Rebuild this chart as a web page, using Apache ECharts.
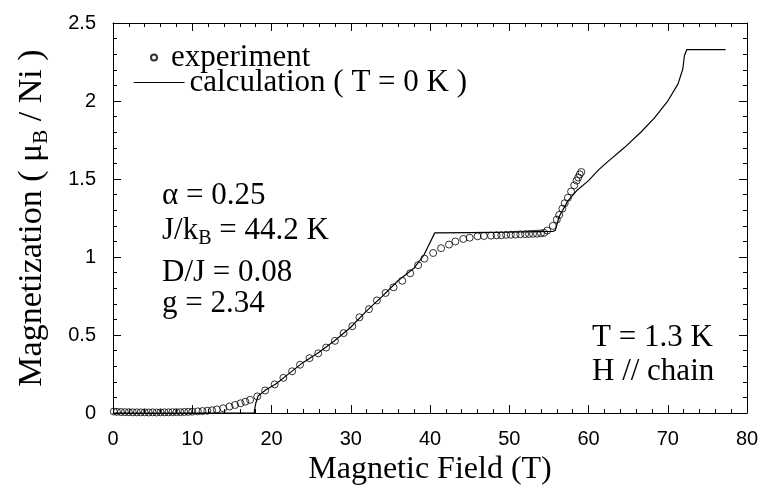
<!DOCTYPE html>
<html><head><meta charset="utf-8">
<script src="https://cdn.jsdelivr.net/npm/echarts/dist/echarts.min.js"></script>
<style>html,body{margin:0;padding:0;background:#fff}#c{width:762px;height:491px}</style>
</head><body><div id="c"></div>
<script>
// Experimental points (field in T, magnetization in muB/Ni)
const fieldExp = [0.1,0.5,1.0,1.5,2.0,2.5,3.0,3.5,4.0,4.5,5.0,5.5,6.0,6.5,7.0,7.5,8.0,8.5,9.0,9.5,10.0,
  10.7,11.3,11.9,12.5,13.1,13.9,14.7,15.4,16.1,16.7,17.3,18.2,19.2,20.4,21.5,22.6,23.6,24.8,25.9,26.9,28.0,
  29.1,30.2,31.1,32.3,33.3,34.4,35.4,36.5,37.5,38.5,39.3,40.4,41.4,42.4,43.2,44.2,45.0,46.0,46.8,47.7,48.4,
  49.0,49.6,50.2,50.8,51.4,52.0,52.5,53.0,53.5,54.0,54.4,54.8,55.5,56.0,56.3,56.7,57.0,57.4,57.8,58.2,58.5,
  58.7,58.9,59.1];
const magExp = [0.010,0.008,0.007,0.006,0.006,0.005,0.005,0.005,0.005,0.004,0.005,0.004,0.005,0.005,0.005,0.006,0.006,0.006,0.007,0.008,0.009,
  0.011,0.013,0.015,0.018,0.023,0.031,0.042,0.052,0.063,0.073,0.085,0.107,0.145,0.184,0.226,0.268,0.310,0.352,0.383,0.420,0.463,
  0.513,0.557,0.614,0.666,0.722,0.770,0.806,0.848,0.896,0.948,0.990,1.026,1.057,1.080,1.100,1.116,1.124,1.133,1.135,1.137,1.139,
  1.140,1.142,1.143,1.144,1.146,1.147,1.148,1.149,1.150,1.152,1.155,1.170,1.200,1.240,1.270,1.310,1.345,1.380,1.420,1.460,1.490,
  1.510,1.530,1.545];
// Calculation at T = 0 K
const fieldCalc = [0,17.8,18.0,18.3,19.3,20.5,22,24,26,28,30,32,34,36,38,39.2,40.6,45,50,55.5,55.8,56.3,57.4,58.6,60,61.3,62.4,64.5,66.6,68.3,70.0,71.3,71.9,72.1,72.4,77.3];
const magCalc  = [0,0,0.06,0.11,0.15,0.185,0.245,0.325,0.39,0.465,0.55,0.655,0.75,0.85,0.93,1.01,1.155,1.157,1.16,1.165,1.17,1.26,1.36,1.43,1.49,1.56,1.61,1.70,1.80,1.89,2.00,2.11,2.205,2.29,2.33,2.33];

const xAxisRange = {min: 0, max: 80, interval: 10};
const yAxisRange = {min: 0, max: 2.5, interval: 0.5};
const annotations = ['α = 0.25', '{m|J/k}{s|B}{m| = 44.2 K}', 'D/J = 0.08', 'g = 2.34', 'T = 1.3 K', 'H // chain'];
const seriesNames = ['experiment', 'calculation ( T = 0 K )'];

const serif = '"Liberation Serif", "Times New Roman", serif';
const sans = '"Liberation Sans", Arial, sans-serif';
const FS = 31;

const expData = fieldExp.map((x, i) => [x, magExp[i]]);
const calcData = fieldCalc.map((x, i) => [x, magCalc[i]]);

const baseX = {
  type: 'value', min: xAxisRange.min, max: xAxisRange.max, interval: xAxisRange.interval,
  axisLine: {show: true, onZero: false, lineStyle: {color: '#000', width: 1}},
  axisTick: {show: true, inside: true, length: 8, lineStyle: {color: '#000'}},
  minorTick: {show: true, splitNumber: 5, length: 4, lineStyle: {color: '#000'}},
  splitLine: {show: false}
};
const baseY = {
  type: 'value', min: yAxisRange.min, max: yAxisRange.max, interval: yAxisRange.interval,
  axisLine: {show: true, onZero: false, lineStyle: {color: '#000', width: 1}},
  axisTick: {show: true, inside: true, length: 8, lineStyle: {color: '#000'}},
  minorTick: {show: true, splitNumber: 5, length: 4, lineStyle: {color: '#000'}},
  splitLine: {show: false}
};

const chart = echarts.init(document.getElementById('c'), null, {renderer: 'canvas'});
chart.setOption({
  animation: false,
  backgroundColor: '#fff',
  grid: {left: 113, right: 15, top: 23, bottom: 70, containLabel: false},
  xAxis: [
    Object.assign({}, baseX, {
      position: 'bottom',
      axisLabel: {show: true, margin: 16, fontFamily: sans, fontSize: 20, color: '#000'},
      name: 'Magnetic Field (T)', nameLocation: 'middle', nameGap: 29,
      nameTextStyle: {fontFamily: serif, fontSize: 32, color: '#000'}
    }),
    Object.assign({}, baseX, {position: 'top', axisLabel: {show: false}})
  ],
  yAxis: [
    Object.assign({}, baseY, {
      position: 'left',
      axisLabel: {show: true, margin: 17, fontFamily: sans, fontSize: 20, color: '#000'},
      name: '{m|Magnetization ( μ}{s|B}{m| / Ni )}', nameLocation: 'middle', nameGap: 61,
      nameTextStyle: {
        fontFamily: serif, fontSize: 34, color: '#000',
        rich: {
          m: {fontFamily: serif, fontSize: 34, color: '#000'},
          s: {fontFamily: serif, fontSize: 21, color: '#000', padding: [18, 0, 0, 0]}
        }
      }
    }),
    Object.assign({}, baseY, {position: 'right', axisLabel: {show: false}})
  ],
  legend: [
    {
      data: [seriesNames[0]], orient: 'vertical', left: 150, top: 42, padding: 0,
      itemWidth: 24, itemHeight: 6, selectedMode: false,
      textStyle: {fontFamily: serif, fontSize: FS, color: '#000', lineHeight: 30}
    },
    {
      data: [seriesNames[1]], orient: 'vertical', left: 133, top: 67, padding: 0,
      itemWidth: 51, itemHeight: 6, selectedMode: false,
      itemStyle: {opacity: 0},
      lineStyle: {color: '#000', width: 1.2, opacity: 1},
      textStyle: {fontFamily: serif, fontSize: FS, color: '#000', lineHeight: 30}
    }
  ],
  graphic: [
    {type: 'text', x: 162, y: 196, style: {text: annotations[0], font: FS + 'px ' + serif, fill: '#000', verticalAlign: 'middle'}},
    {type: 'text', x: 162, y: 231, style: {
      text: annotations[1], fill: '#000', verticalAlign: 'middle', font: FS + 'px ' + serif,
      rich: {
        m: {font: FS + 'px ' + serif, fill: '#000'},
        s: {font: '20px ' + serif, fill: '#000', padding: [16, 0, 0, 0]}
      }
    }},
    {type: 'text', x: 162, y: 273, style: {text: annotations[2], font: FS + 'px ' + serif, fill: '#000', verticalAlign: 'middle'}},
    {type: 'text', x: 162, y: 304, style: {text: annotations[3], font: FS + 'px ' + serif, fill: '#000', verticalAlign: 'middle'}},
    {type: 'text', x: 592, y: 338, style: {text: annotations[4], font: FS + 'px ' + serif, fill: '#000', verticalAlign: 'middle'}},
    {type: 'text', x: 592, y: 372, style: {text: annotations[5], font: FS + 'px ' + serif, fill: '#000', verticalAlign: 'middle'}}
  ],
  series: [
    {
      name: seriesNames[0], type: 'scatter', xAxisIndex: 0, yAxisIndex: 0,
      data: expData, symbol: 'circle', symbolSize: 7, z: 3,
      itemStyle: {color: 'rgba(255,255,255,0)', borderColor: '#000', borderWidth: 1}
    },
    {
      name: seriesNames[1], type: 'line', xAxisIndex: 0, yAxisIndex: 0,
      data: calcData, symbol: 'none', z: 2,
      itemStyle: {color: '#000'},
      lineStyle: {color: '#000', width: 1.2}
    }
  ]
});
</script>
</body></html>
